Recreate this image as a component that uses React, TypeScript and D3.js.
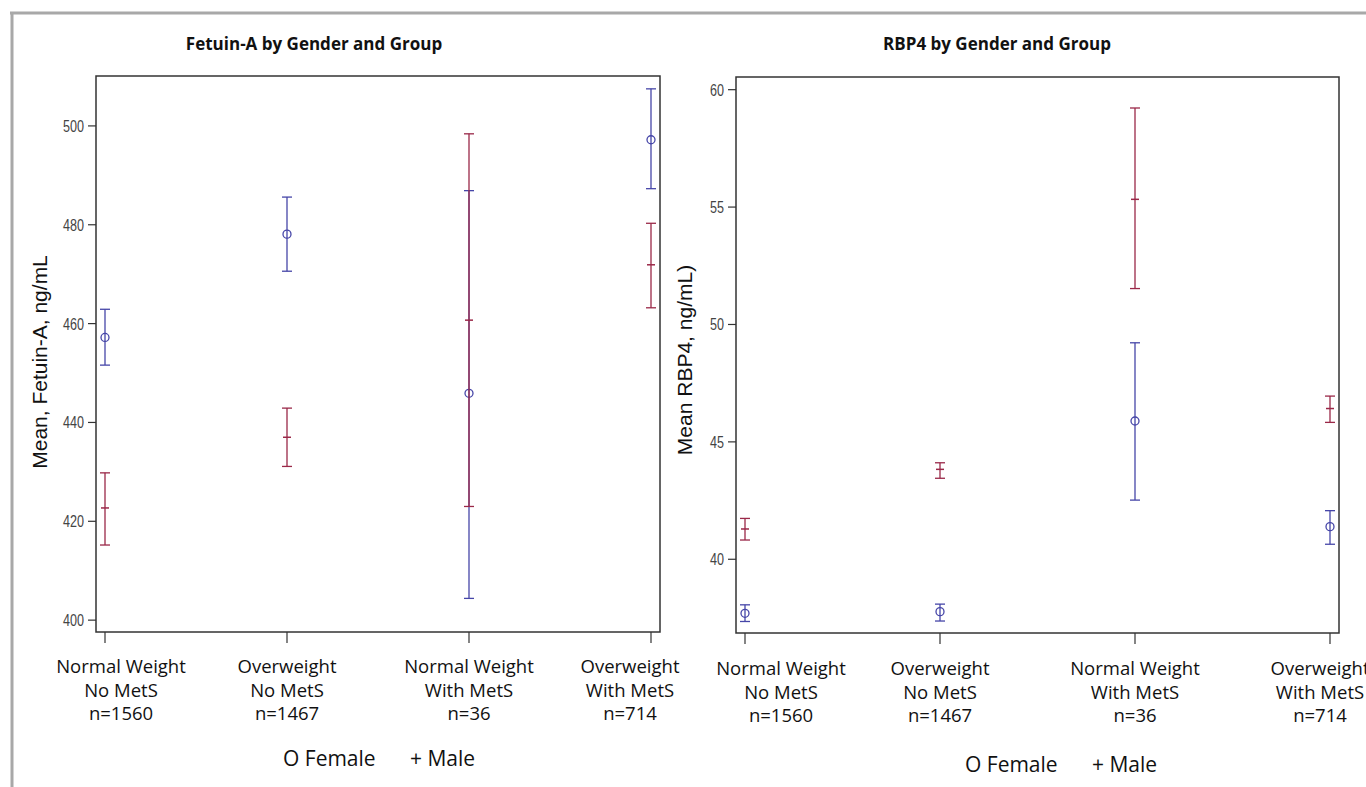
import React from "react";
import * as d3 from "d3";

// ---- data ----
const groupLine1 = ["Normal Weight", "Overweight", "Normal Weight", "Overweight"];
const groupLine2 = ["No MetS", "No MetS", "With MetS", "With MetS"];
const groupN = ["n=1560", "n=1467", "n=36", "n=714"];

const fetuinFemaleMean = [457.2, 478.1, 445.9, 497.2];
const fetuinFemaleLow = [451.6, 470.6, 404.4, 487.3];
const fetuinFemaleHigh = [462.9, 485.6, 486.9, 507.5];
const fetuinMaleMean = [422.7, 437.0, 460.7, 471.9];
const fetuinMaleLow = [415.2, 431.1, 423.0, 463.2];
const fetuinMaleHigh = [429.8, 442.9, 498.4, 480.3];
const fetuinTicks = [400, 420, 440, 460, 480, 500];

const rbpFemaleMean = [37.7, 37.77, 45.89, 41.39];
const rbpFemaleLow = [37.35, 37.37, 42.52, 40.64];
const rbpFemaleHigh = [38.06, 38.09, 49.22, 42.07];
const rbpMaleMean = [41.29, 43.83, 55.33, 46.42];
const rbpMaleLow = [40.82, 43.45, 51.53, 45.83];
const rbpMaleHigh = [41.74, 44.11, 59.22, 46.95];
const rbpTicks = [40, 45, 50, 55, 60];

const FEMALE = "#4646a8";
const MALE = "#9a2848";
const LABEL_FONT = "'Open Sans', sans-serif";

type PanelProps = {
  title: string;
  yLabel: string;
  left: number;
  right: number;
  top: number;
  bottom: number;
  domain: [number, number];
  ticks: number[];
  fMean: number[];
  fLow: number[];
  fHigh: number[];
  mMean: number[];
  mLow: number[];
  mHigh: number[];
  labelMin: number;
  labelMax: number;
  labelY: number;
  legendX: number;
  legendY: number;
  titleX: number;
  yLabelX: number;
  yLabelY: number;
};

function Panel(p: PanelProps) {
  const x = d3.scalePoint<string>().domain(groupN).range([p.left + 9, p.right - 9]);
  const y = d3.scaleLinear().domain(p.domain).range([p.bottom, p.top]);
  const cap = 5;
  const bar = (i: number, lo: number, hi: number, color: string) => {
    const cx = x(groupN[i])!;
    return (
      <g stroke={color} strokeWidth={1.3} fill="none">
        <line x1={cx} x2={cx} y1={y(lo)} y2={y(hi)} />
        <line x1={cx - cap} x2={cx + cap} y1={y(lo)} y2={y(lo)} />
        <line x1={cx - cap} x2={cx + cap} y1={y(hi)} y2={y(hi)} />
      </g>
    );
  };
  return (
    <g>
      <text x={p.titleX} y={50} textAnchor="middle" fontFamily={LABEL_FONT} fontWeight="bold" fontSize={17} fill="#111">
        {p.title}
      </text>
      <rect x={p.left} y={p.top} width={p.right - p.left} height={p.bottom - p.top} fill="none" stroke="#333" strokeWidth={1.5} />
      {p.ticks.map((t) => (
        <g key={t}>
          <line x1={p.left - 8} x2={p.left} y1={y(t)} y2={y(t)} stroke="#333" strokeWidth={1.2} />
          <text
            x={p.left - 12}
            y={y(t) + 6}
            textAnchor="end"
            fontFamily="'Liberation Sans', Arial, sans-serif"
            fontSize={17}
            fill="#444"
            textLength={String(t).length * 7}
            lengthAdjust="spacingAndGlyphs"
          >
            {t}
          </text>
        </g>
      ))}
      {groupN.map((g, i) => {
        const cx = x(g)!;
        const lx = Math.min(Math.max(cx, p.labelMin), p.labelMax);
        return (
          <g key={g}>
            <line x1={cx} x2={cx} y1={p.bottom} y2={p.bottom + 11} stroke="#333" strokeWidth={1.2} />
            <text x={lx} y={p.labelY} textAnchor="middle" fontFamily={LABEL_FONT} fontSize={18.5} fill="#111">
              <tspan x={lx} dy={0}>{groupLine1[i]}</tspan>
              <tspan x={lx} dy={23.5}>{groupLine2[i]}</tspan>
              <tspan x={lx} dy={23.5}>{groupN[i]}</tspan>
            </text>
          </g>
        );
      })}
      <text
        transform={`translate(${p.yLabelX},${p.yLabelY}) rotate(-90)`}
        textAnchor="middle"
        fontFamily="'Liberation Sans', Arial, sans-serif"
        fontSize={21}
        fill="#111"
      >
        {p.yLabel}
      </text>
      {groupN.map((g, i) => (
        <g key={"f" + g}>
          {bar(i, p.fLow[i], p.fHigh[i], FEMALE)}
          <circle cx={x(g)!} cy={y(p.fMean[i])} r={4} fill="none" stroke={FEMALE} strokeWidth={1.3} />
        </g>
      ))}
      {groupN.map((g, i) => (
        <g key={"m" + g}>
          {bar(i, p.mLow[i], p.mHigh[i], MALE)}
          <line x1={x(g)! - 4} x2={x(g)! + 4} y1={y(p.mMean[i])} y2={y(p.mMean[i])} stroke={MALE} strokeWidth={1.5} />
        </g>
      ))}
      <text x={p.legendX} y={p.legendY} fontFamily={LABEL_FONT} fontSize={21} fill="#111">
        O Female
      </text>
      <text x={p.legendX + 127} y={p.legendY} fontFamily={LABEL_FONT} fontSize={21} fill="#111">
        + Male
      </text>
    </g>
  );
}

export default function App() {
  return (
    <svg
      width={1366}
      height={787}
      style={{ position: "absolute", left: 0, top: 0, display: "block", background: "#fff" }}
    >
      <rect x={0} y={0} width={1366} height={787} fill="#fff" />
      <line x1={10} x2={1366} y1={13} y2={13} stroke="#a8a8a8" strokeWidth={3} />
      <line x1={12} x2={12} y1={12} y2={787} stroke="#a8a8a8" strokeWidth={3} />
      <Panel
        title="Fetuin-A by Gender and Group"
        yLabel="Mean, Fetuin-A, ng/mL"
        left={96}
        right={660}
        top={76}
        bottom={632}
        domain={[397.6, 510.1]}
        ticks={fetuinTicks}
        fMean={fetuinFemaleMean}
        fLow={fetuinFemaleLow}
        fHigh={fetuinFemaleHigh}
        mMean={fetuinMaleMean}
        mLow={fetuinMaleLow}
        mHigh={fetuinMaleHigh}
        labelMin={121}
        labelMax={630}
        labelY={673}
        legendX={283}
        legendY={766}
        titleX={314}
        yLabelX={47}
        yLabelY={362}
      />
      <Panel
        title="RBP4 by Gender and Group"
        yLabel="Mean RBP4, ng/mL)"
        left={736}
        right={1339}
        top={77}
        bottom={633}
        domain={[36.86, 60.54]}
        ticks={rbpTicks}
        fMean={rbpFemaleMean}
        fLow={rbpFemaleLow}
        fHigh={rbpFemaleHigh}
        mMean={rbpMaleMean}
        mLow={rbpMaleLow}
        mHigh={rbpMaleHigh}
        labelMin={781}
        labelMax={1320}
        labelY={675}
        legendX={965}
        legendY={772}
        titleX={997}
        yLabelX={692}
        yLabelY={360}
      />
    </svg>
  );
}
